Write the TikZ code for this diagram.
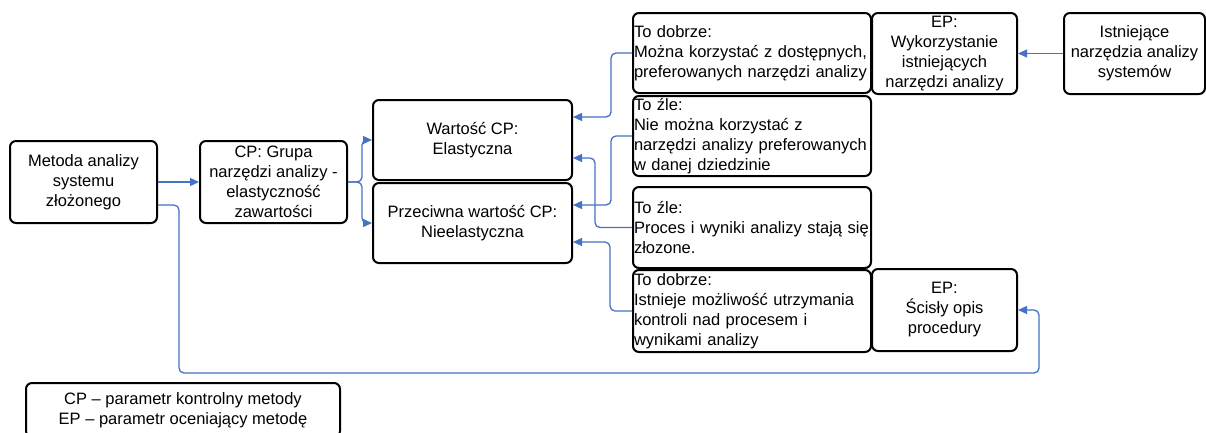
\documentclass[tikz,border=0pt]{standalone}
\usepackage{fontspec}
\setmainfont{Liberation Sans}
\definecolor{LinkColor}{RGB}{68,114,196}
\definecolor{FrameColor}{RGB}{0,0,0}
\usepackage{tikz}
\usetikzlibrary{arrows.meta}
\tikzstyle{link} = [line width=1.3pt, LinkColor, rounded corners=5pt, -{Triangle[length=9pt, width=8pt]}]
\tikzset{
  box/.style={rectangle, draw=FrameColor, line width=2pt, rounded corners=6pt, align=center, inner sep=2pt,
    font=\fontsize{16.5}{20}\selectfont},
  wide box/.style={box, minimum width=147pt, minimum height=82pt},
  value box/.style={box, minimum width=199pt, minimum height=80pt},
  ep box/.style={box, minimum width=145pt, minimum height=81pt},
  note box/.style={box, align=left, inner xsep=1pt, text width=236pt, minimum height=80pt}
}

\begin{document}
\begin{tikzpicture}[x=1pt, y=-1pt]
    \useasboundingbox (0,0) rectangle (1206,432);
    \clip (0,0) rectangle (1206,432);

    % Method and control parameter
    \node[wide box] (metoda) at (83.5,182) {Metoda analizy\\systemu\\złożonego};
    \node[wide box] (grupa) at (273.5,182) {CP: Grupa\\narzędzi analizy -\\elastyczność\\zawartości};

    % Values of the control parameter
    \node[value box] (wartosc) at (472.5,140) {Wartość CP:\\Elastyczna};
    \node[value box] (przeciwna) at (472.5,223) {Przeciwna wartość CP:\\Nieelastyczna};

    % Consequences
    \node[note box] (dobrze1) at (752,53) {To dobrze:\\Można korzystać z dostępnych,\\preferowanych narzędzi analizy};
    \node[note box] (zle1) at (752,136) {To źle:\\Nie można korzystać z\\narzędzi analizy preferowanych\\w danej dziedzinie};
    \node[note box, minimum height=81pt] (zle2) at (752,227.5) {To źle:\\Proces i wyniki analizy stają~się\\złozone.};
    \node[note box, minimum height=82pt] (dobrze2) at (752,311) {To dobrze:\\Istnieje możliwość utrzymania\\kontroli nad procesem i\\wynikami analizy};

    % Evaluation parameters
    \node[ep box] (wykorz) at (944.5,53.5) {EP:\\Wykorzystanie\\istniejących\\narzędzi analizy};
    \node[ep box, minimum height=82pt] (scisly) at (944.5,310) {EP:\\Ścisły opis\\procedury};
    \node[box, minimum width=141pt, minimum height=81pt] (istniejace) at (1134.5,53.5) {Istniejące\\narzędzia analizy\\systemów};

    % Legend
    \node[box, minimum width=314pt, minimum height=54pt] (legenda) at (183,410) {CP – parametr kontrolny metody\\EP – parametr oceniający metodę};

    % Links from the method
    \draw[link] (metoda.east) -- (grupa.west);
    \draw[link] (metoda.east |- 0,205) -| (179,373) -| (1039,310) -- (scisly.east);

    % Brace to both values
    \draw[link] (grupa.east) -- (362,182) |- (wartosc.west);
    \draw[link] (grupa.east) -- (362,182) |- (przeciwna.west);

    % Links from the consequences
    \draw[link] (dobrze1.west) -| (611,117) -- (wartosc.east |- 0,117);
    \draw[link] (zle1.west) -| (611,205) -- (przeciwna.east |- 0,205);
    \draw[link] (zle2.west) -| (595,158) -- (wartosc.east |- 0,158);
    \draw[link] (dobrze2.west) -| (610,242) -- (przeciwna.east |- 0,242);

    % Existing tools
    \draw[link] (istniejace.west) -- (wykorz.east);
\end{tikzpicture}
\end{document}
